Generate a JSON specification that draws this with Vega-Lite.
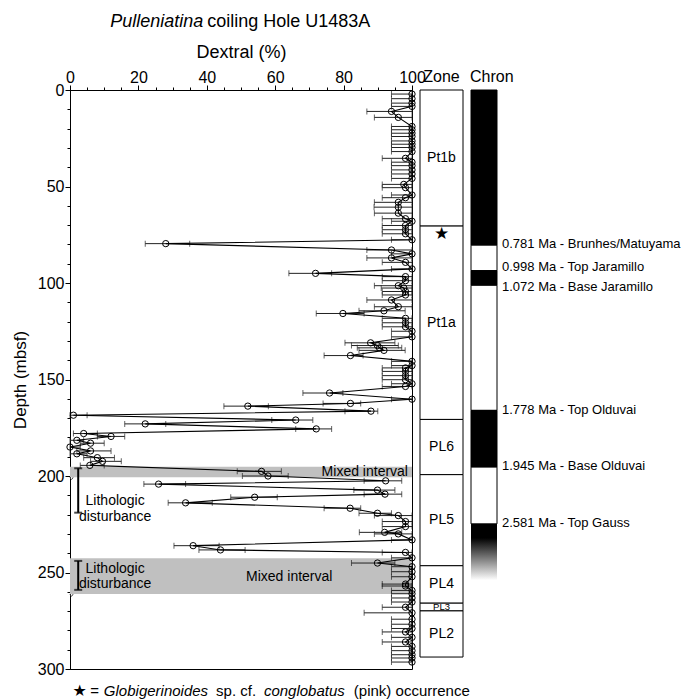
{
  "$schema": "https://vega.github.io/schema/vega-lite/v6.json",
  "padding": {"left": 10, "top": 12, "right": 2, "bottom": 0},
  "bounds": "flush",
  "spacing": 8,
  "config": {"font": "Liberation Sans", "view": {"stroke": null}},
  "datasets": {
    "pts": [
      {"d": 2.1, "p": 100, "lo": 94, "hi": 100},
      {"d": 4.5, "p": 100, "lo": 94, "hi": 100},
      {"d": 6.8, "p": 100, "lo": 94, "hi": 100},
      {"d": 8.5, "p": 100, "lo": 94, "hi": 100},
      {"d": 11.1, "p": 94, "lo": 86.8, "hi": 100},
      {"d": 14.2, "p": 96, "lo": 89, "hi": 100},
      {"d": 18.9, "p": 100, "lo": 94, "hi": 100},
      {"d": 20.6, "p": 100, "lo": 94, "hi": 100},
      {"d": 22.4, "p": 100, "lo": 94, "hi": 100},
      {"d": 24.1, "p": 100, "lo": 94, "hi": 100},
      {"d": 26.4, "p": 100, "lo": 94, "hi": 100},
      {"d": 28.1, "p": 100, "lo": 94, "hi": 100},
      {"d": 29.8, "p": 100, "lo": 94, "hi": 100},
      {"d": 31.9, "p": 100, "lo": 94, "hi": 100},
      {"d": 35.4, "p": 98.1, "lo": 91.3, "hi": 100},
      {"d": 37.4, "p": 100, "lo": 94, "hi": 100},
      {"d": 39.2, "p": 100, "lo": 94, "hi": 100},
      {"d": 41.4, "p": 100, "lo": 94, "hi": 100},
      {"d": 43.5, "p": 100, "lo": 94, "hi": 100},
      {"d": 45.8, "p": 100, "lo": 94, "hi": 100},
      {"d": 48.9, "p": 97.6, "lo": 91.3, "hi": 100},
      {"d": 50.6, "p": 98.1, "lo": 91.3, "hi": 100},
      {"d": 54.4, "p": 100, "lo": 94, "hi": 100},
      {"d": 55.8, "p": 98.1, "lo": 91.3, "hi": 100},
      {"d": 58.2, "p": 96, "lo": 89, "hi": 100},
      {"d": 60.7, "p": 96, "lo": 88.9, "hi": 100},
      {"d": 63.8, "p": 96, "lo": 89, "hi": 100},
      {"d": 66.7, "p": 98.1, "lo": 91.3, "hi": 100},
      {"d": 68.0, "p": 100, "lo": 94, "hi": 100},
      {"d": 70.2, "p": 98.1, "lo": 91.3, "hi": 100},
      {"d": 72.4, "p": 98.1, "lo": 91.3, "hi": 100},
      {"d": 74.5, "p": 98.1, "lo": 91.3, "hi": 100},
      {"d": 77.6, "p": 100, "lo": 94, "hi": 100},
      {"d": 79.6, "p": 28, "lo": 22, "hi": 35},
      {"d": 82.9, "p": 94, "lo": 86.8, "hi": 100},
      {"d": 84.9, "p": 100, "lo": 94, "hi": 100},
      {"d": 87.0, "p": 94, "lo": 86.8, "hi": 100},
      {"d": 89.3, "p": 98.1, "lo": 91.3, "hi": 100},
      {"d": 92.7, "p": 100, "lo": 94, "hi": 100},
      {"d": 95.0, "p": 71.8, "lo": 64, "hi": 76.5},
      {"d": 96.7, "p": 98.1, "lo": 91.3, "hi": 100},
      {"d": 98.8, "p": 98.1, "lo": 91.3, "hi": 100},
      {"d": 101.4, "p": 96, "lo": 89, "hi": 100},
      {"d": 102.6, "p": 97.6, "lo": 91, "hi": 100},
      {"d": 104.4, "p": 98.1, "lo": 91.3, "hi": 100},
      {"d": 106.2, "p": 98.1, "lo": 91.3, "hi": 100},
      {"d": 108.8, "p": 94, "lo": 86.8, "hi": 100},
      {"d": 112.3, "p": 96, "lo": 89, "hi": 100},
      {"d": 114.4, "p": 91.8, "lo": 84.5, "hi": 98},
      {"d": 115.8, "p": 79.8, "lo": 72, "hi": 86},
      {"d": 118.3, "p": 98.1, "lo": 91.3, "hi": 100},
      {"d": 120.6, "p": 98.1, "lo": 91.3, "hi": 100},
      {"d": 122.7, "p": 98.1, "lo": 91.3, "hi": 100},
      {"d": 125.0, "p": 100, "lo": 94, "hi": 100},
      {"d": 127.9, "p": 100, "lo": 94, "hi": 100},
      {"d": 131.0, "p": 87.9, "lo": 80.4, "hi": 95},
      {"d": 132.4, "p": 89.9, "lo": 82.3, "hi": 96},
      {"d": 133.6, "p": 90.5, "lo": 84, "hi": 97},
      {"d": 134.9, "p": 91.8, "lo": 84.5, "hi": 98},
      {"d": 137.6, "p": 82, "lo": 74.3, "hi": 85.7},
      {"d": 140.6, "p": 100, "lo": 94, "hi": 100},
      {"d": 142.8, "p": 100, "lo": 94, "hi": 100},
      {"d": 144.0, "p": 98.1, "lo": 91.3, "hi": 100},
      {"d": 145.8, "p": 98.1, "lo": 91.3, "hi": 100},
      {"d": 148.0, "p": 98.1, "lo": 91.3, "hi": 100},
      {"d": 150.1, "p": 98.1, "lo": 91.3, "hi": 100},
      {"d": 152.2, "p": 100, "lo": 94, "hi": 100},
      {"d": 153.6, "p": 98.1, "lo": 91.3, "hi": 100},
      {"d": 157.0, "p": 75.9, "lo": 68.1, "hi": 79.8},
      {"d": 160.2, "p": 100, "lo": 94, "hi": 100},
      {"d": 162.4, "p": 82, "lo": 74, "hi": 85},
      {"d": 163.8, "p": 52, "lo": 45, "hi": 58},
      {"d": 166.4, "p": 88, "lo": 80.4, "hi": 90},
      {"d": 168.5, "p": 1, "lo": 0, "hi": 5},
      {"d": 171.0, "p": 66, "lo": 59, "hi": 71},
      {"d": 173.0, "p": 22, "lo": 16, "hi": 28},
      {"d": 175.6, "p": 72, "lo": 66, "hi": 76.5},
      {"d": 178.0, "p": 4, "lo": 1, "hi": 8},
      {"d": 179.5, "p": 12, "lo": 8, "hi": 16},
      {"d": 181.5, "p": 2, "lo": 0, "hi": 4},
      {"d": 183.0, "p": 6, "lo": 3, "hi": 10},
      {"d": 185.0, "p": 0, "lo": 0, "hi": 3},
      {"d": 187.0, "p": 6, "lo": 2, "hi": 12},
      {"d": 188.5, "p": 2, "lo": 0, "hi": 5},
      {"d": 190.5, "p": 8, "lo": 4, "hi": 13},
      {"d": 192.4, "p": 9.5, "lo": 6, "hi": 15},
      {"d": 194.5, "p": 5.8, "lo": 3, "hi": 10},
      {"d": 197.6, "p": 56, "lo": 48.9, "hi": 61.8},
      {"d": 200.0, "p": 57.9, "lo": 50.4, "hi": 63.8},
      {"d": 202.5, "p": 92.3, "lo": 86, "hi": 97},
      {"d": 204.2, "p": 25.9, "lo": 21.6, "hi": 33.8},
      {"d": 207.3, "p": 89.9, "lo": 83, "hi": 95},
      {"d": 209.4, "p": 92.1, "lo": 86, "hi": 97},
      {"d": 211.0, "p": 54, "lo": 47, "hi": 60.6},
      {"d": 213.9, "p": 33.8, "lo": 28.7, "hi": 41.6},
      {"d": 216.7, "p": 81.9, "lo": 74.3, "hi": 85},
      {"d": 219.3, "p": 89.9, "lo": 84.5, "hi": 94},
      {"d": 220.5, "p": 96, "lo": 89, "hi": 100},
      {"d": 223.6, "p": 98.1, "lo": 91.3, "hi": 100},
      {"d": 226.2, "p": 98.1, "lo": 91.3, "hi": 100},
      {"d": 229.2, "p": 92, "lo": 84.6, "hi": 97},
      {"d": 230.0, "p": 96, "lo": 89, "hi": 100},
      {"d": 233.1, "p": 100, "lo": 94, "hi": 100},
      {"d": 236.1, "p": 36, "lo": 30.4, "hi": 43.6},
      {"d": 238.3, "p": 44, "lo": 37.7, "hi": 51.2},
      {"d": 239.6, "p": 98.1, "lo": 91.3, "hi": 100},
      {"d": 242.4, "p": 100, "lo": 94, "hi": 100},
      {"d": 245.1, "p": 89.9, "lo": 82.3, "hi": 95},
      {"d": 247.0, "p": 100, "lo": 94, "hi": 100},
      {"d": 249.6, "p": 100, "lo": 94, "hi": 100},
      {"d": 252.2, "p": 100, "lo": 94, "hi": 100},
      {"d": 256.0, "p": 98.1, "lo": 91.3, "hi": 100},
      {"d": 257.0, "p": 98.1, "lo": 91.3, "hi": 100},
      {"d": 259.3, "p": 100, "lo": 94, "hi": 100},
      {"d": 261.0, "p": 100, "lo": 94, "hi": 100},
      {"d": 263.2, "p": 100, "lo": 94, "hi": 100},
      {"d": 265.3, "p": 100, "lo": 94, "hi": 100},
      {"d": 268.0, "p": 98.1, "lo": 91.3, "hi": 100},
      {"d": 270.9, "p": 100, "lo": 86, "hi": 100},
      {"d": 274.2, "p": 100, "lo": 94, "hi": 100},
      {"d": 276.8, "p": 100, "lo": 94, "hi": 100},
      {"d": 279.0, "p": 100, "lo": 94, "hi": 100},
      {"d": 280.8, "p": 98.1, "lo": 91.3, "hi": 100},
      {"d": 283.6, "p": 100, "lo": 94, "hi": 100},
      {"d": 286.0, "p": 98.1, "lo": 91.3, "hi": 100},
      {"d": 288.3, "p": 100, "lo": 94, "hi": 100},
      {"d": 290.5, "p": 100, "lo": 94, "hi": 100},
      {"d": 292.6, "p": 100, "lo": 94, "hi": 100},
      {"d": 294.3, "p": 100, "lo": 94, "hi": 100},
      {"d": 296.4, "p": 100, "lo": 94, "hi": 100}
    ],
    "bands": [{"top": 195.2, "bot": 200.7}, {"top": 242.6, "bot": 261.2}],
    "dist": [{"x": 2.4, "top": 196, "bot": 219}, {"x": 2.4, "top": 244, "bot": 259}],
    "distLabels": [
      {"x": 13.2, "d": 213, "t": "Lithologic"},
      {"x": 13.2, "d": 221, "t": "disturbance"},
      {"x": 13.2, "d": 248, "t": "Lithologic"},
      {"x": 13.2, "d": 256, "t": "disturbance"}
    ],
    "mixLabels": [{"x": 86.2, "d": 198, "t": "Mixed interval"}, {"x": 64.1, "d": 252.2, "t": "Mixed interval"}],
    "titleItalic": [{"x": 39.0, "d": -32.6, "t": "Pulleniatina"}],
    "titleNormal": [{"x": 40.1, "d": -32.6, "t": "coiling Hole U1483A"}],
    "footStar": [{"x": 0.7, "d": 314, "t": "★"}],
    "footNormal": [{"x": 5.9, "d": 314, "t": "="}, {"x": 42.7, "d": 314, "t": "sp. cf."}, {"x": 83.0, "d": 314, "t": "(pink) occurrence"}],
    "footItalic": [{"x": 9.9, "d": 314, "t": "Globigerinoides"}, {"x": 56.7, "d": 314, "t": "conglobatus"}],
    "zones": [
      {"zone": "Pt1b", "top": 0, "bot": 70.5},
      {"zone": "Pt1a", "top": 70.5, "bot": 170.7},
      {"zone": "PL6", "top": 170.7, "bot": 199.3},
      {"zone": "PL5", "top": 199.3, "bot": 246.5},
      {"zone": "PL4", "top": 246.5, "bot": 265.9},
      {"zone": "PL3", "top": 265.9, "bot": 269.9},
      {"zone": "PL2", "top": 269.9, "bot": 293.8}
    ],
    "star": [{"d": 74.5, "t": "★"}],
    "chron": [
      {"top": 0, "bot": 80.4, "pol": "normal"},
      {"top": 80.4, "bot": 93.6, "pol": "reversed"},
      {"top": 93.6, "bot": 101.2, "pol": "normal"},
      {"top": 101.2, "bot": 166, "pol": "reversed"},
      {"top": 166, "bot": 195.4, "pol": "normal"},
      {"top": 195.4, "bot": 224.8, "pol": "reversed"}
    ],
    "gauss": [{"top": 224.8, "bot": 254}],
    "events": [
      {"d": 79.6, "t": "0.781 Ma - Brunhes/Matuyama"},
      {"d": 91.7, "t": "0.998 Ma - Top Jaramillo"},
      {"d": 101.9, "t": "1.072 Ma - Base Jaramillo"},
      {"d": 165.8, "t": "1.778 Ma - Top Olduvai"},
      {"d": 194.6, "t": "1.945 Ma - Base Olduvai"},
      {"d": 224.1, "t": "2.581 Ma - Top Gauss"}
    ],
    "heads": [{"d": -4.1}]
  },
  "hconcat": [
    {
      "width": 342,
      "height": 579,
      "view": {"stroke": "black", "strokeWidth": 1},
      "resolve": {"axis": {"x": "independent", "y": "independent"}},
      "layer": [
        {
          "data": {"name": "bands"},
          "mark": {"type": "rect", "color": "#c0c0c0"},
          "encoding": {
            "x": {"datum": 0, "type": "quantitative", "scale": {"domain": [0, 100], "nice": false, "zero": false}, "axis": null},
            "x2": {"datum": 100},
            "y": {"field": "top", "type": "quantitative", "scale": {"domain": [0, 300], "reverse": true, "nice": false, "zero": false}, "axis": null},
            "y2": {"field": "bot"}
          }
        },
        {
          "data": {"name": "bands"},
          "mark": {
            "type": "point",
            "shape": "M-1,0q0.00893,0.024 0.01786,0t0.01786,0t0.01786,0t0.01786,0t0.01786,0t0.01786,0t0.01786,0t0.01786,0t0.01786,0t0.01786,0t0.01786,0t0.01786,0t0.01786,0t0.01786,0t0.01786,0t0.01786,0t0.01786,0t0.01786,0t0.01786,0t0.01786,0t0.01786,0t0.01786,0t0.01786,0t0.01786,0t0.01786,0t0.01786,0t0.01786,0t0.01786,0t0.01786,0t0.01786,0t0.01786,0t0.01786,0t0.01786,0t0.01786,0t0.01786,0t0.01786,0t0.01786,0t0.01786,0t0.01786,0t0.01786,0t0.01786,0t0.01786,0t0.01786,0t0.01786,0t0.01786,0t0.01786,0t0.01786,0t0.01786,0t0.01786,0t0.01786,0t0.01786,0t0.01786,0t0.01786,0t0.01786,0t0.01786,0t0.01786,0t0.01786,0t0.01786,0t0.01786,0t0.01786,0t0.01786,0t0.01786,0t0.01786,0t0.01786,0t0.01786,0t0.01786,0t0.01786,0t0.01786,0t0.01786,0t0.01786,0t0.01786,0t0.01786,0t0.01786,0t0.01786,0t0.01786,0t0.01786,0t0.01786,0t0.01786,0t0.01786,0t0.01786,0t0.01786,0t0.01786,0t0.01786,0t0.01786,0t0.01786,0t0.01786,0t0.01786,0t0.01786,0t0.01786,0t0.01786,0t0.01786,0t0.01786,0t0.01786,0t0.01786,0t0.01786,0t0.01786,0t0.01786,0t0.01786,0t0.01786,0t0.01786,0t0.01786,0t0.01786,0t0.01786,0t0.01786,0t0.01786,0t0.01786,0t0.01786,0t0.01786,0t0.01786,0",
            "size": 116964, "filled": false, "stroke": "#444", "strokeWidth": 1, "opacity": 1
          },
          "encoding": {
            "x": {"datum": 50, "type": "quantitative", "axis": null},
            "y": {"field": "bot", "type": "quantitative", "axis": null}
          }
        },
        {
          "data": {"name": "pts"},
          "mark": {"type": "errorbar", "color": "#222", "ticks": {"size": 6}},
          "encoding": {
            "x": {"field": "lo", "type": "quantitative", "axis": null},
            "x2": {"field": "hi"},
            "y": {"field": "d", "type": "quantitative", "axis": null}
          }
        },
        {
          "data": {"name": "pts"},
          "mark": {"type": "line", "color": "black", "strokeWidth": 1.1},
          "encoding": {
            "x": {
              "field": "p", "type": "quantitative",
              "axis": {
                "orient": "top", "values": [0, 5, 10, 15, 20, 25, 30, 35, 40, 45, 50, 55, 60, 65, 70, 75, 80, 85, 90, 95, 100],
                "labels": false, "domain": false, "tickSize": 3, "tickColor": "black", "grid": false, "title": null
              }
            },
            "y": {
              "field": "d", "type": "quantitative",
              "axis": {
                "orient": "left", "values": [0, 10, 20, 30, 40, 50, 60, 70, 80, 90, 100, 110, 120, 130, 140, 150, 160, 170, 180, 190, 200, 210, 220, 230, 240, 250, 260, 270, 280, 290, 300],
                "labels": false, "domain": false, "tickSize": 3, "tickColor": "black", "grid": false, "title": null
              }
            },
            "order": {"field": "d", "type": "quantitative"}
          }
        },
        {
          "data": {"name": "pts"},
          "mark": {"type": "point", "shape": "circle", "filled": false, "stroke": "black", "strokeWidth": 1, "size": 40, "opacity": 1},
          "encoding": {
            "x": {
              "field": "p", "type": "quantitative",
              "axis": {
                "orient": "top", "values": [0, 20, 40, 60, 80, 100],
                "tickSize": 5, "labelFontSize": 16, "labelColor": "black", "labelPadding": 0, "labelFlush": false, "labelOverlap": false,
                "domainColor": "black", "tickColor": "black", "grid": false,
                "title": "Dextral (%)", "titleFontSize": 18, "titleFontWeight": "normal", "titleColor": "black", "titlePadding": 8
              }
            },
            "y": {
              "field": "d", "type": "quantitative",
              "axis": {
                "orient": "left", "values": [0, 50, 100, 150, 200, 250, 300],
                "tickSize": 5, "labelFontSize": 16, "labelColor": "black", "labelPadding": 1, "labelOverlap": false,
                "domainColor": "black", "tickColor": "black", "grid": false,
                "title": "Depth (mbsf)", "titleFontSize": 17, "titleFontWeight": "normal", "titleColor": "black", "titlePadding": 8
              }
            }
          }
        },
        {
          "data": {"name": "dist"},
          "mark": {"type": "errorbar", "color": "black", "rule": {"strokeWidth": 2}, "ticks": {"size": 8, "thickness": 2}},
          "encoding": {
            "x": {"field": "x", "type": "quantitative", "axis": null},
            "y": {"field": "top", "type": "quantitative", "axis": null},
            "y2": {"field": "bot"}
          }
        },
        {
          "data": {"name": "distLabels"},
          "mark": {"type": "text", "fontSize": 14, "align": "center", "baseline": "middle", "color": "black"},
          "encoding": {
            "x": {"field": "x", "type": "quantitative", "axis": null},
            "y": {"field": "d", "type": "quantitative", "axis": null},
            "text": {"field": "t"}
          }
        },
        {
          "data": {"name": "mixLabels"},
          "mark": {"type": "text", "fontSize": 14, "align": "center", "baseline": "middle", "color": "black"},
          "encoding": {
            "x": {"field": "x", "type": "quantitative", "axis": null},
            "y": {"field": "d", "type": "quantitative", "axis": null},
            "text": {"field": "t"}
          }
        },
        {
          "data": {"name": "titleItalic"},
          "mark": {"type": "text", "fontSize": 18, "fontStyle": "italic", "align": "right", "baseline": "alphabetic", "color": "black"},
          "encoding": {
            "x": {"field": "x", "type": "quantitative", "axis": null},
            "y": {"field": "d", "type": "quantitative", "axis": null},
            "text": {"field": "t"}
          }
        },
        {
          "data": {"name": "titleNormal"},
          "mark": {"type": "text", "fontSize": 18, "align": "left", "baseline": "alphabetic", "color": "black"},
          "encoding": {
            "x": {"field": "x", "type": "quantitative", "axis": null},
            "y": {"field": "d", "type": "quantitative", "axis": null},
            "text": {"field": "t"}
          }
        },
        {
          "data": {"name": "footStar"},
          "mark": {"type": "text", "font": "DejaVu Sans", "fontSize": 16, "align": "left", "baseline": "alphabetic", "color": "black"},
          "encoding": {
            "x": {"field": "x", "type": "quantitative", "axis": null},
            "y": {"field": "d", "type": "quantitative", "axis": null},
            "text": {"field": "t"}
          }
        },
        {
          "data": {"name": "footNormal"},
          "mark": {"type": "text", "fontSize": 15, "align": "left", "baseline": "alphabetic", "color": "black"},
          "encoding": {
            "x": {"field": "x", "type": "quantitative", "axis": null},
            "y": {"field": "d", "type": "quantitative", "axis": null},
            "text": {"field": "t"}
          }
        },
        {
          "data": {"name": "footItalic"},
          "mark": {"type": "text", "fontSize": 15, "fontStyle": "italic", "align": "left", "baseline": "alphabetic", "color": "black"},
          "encoding": {
            "x": {"field": "x", "type": "quantitative", "axis": null},
            "y": {"field": "d", "type": "quantitative", "axis": null},
            "text": {"field": "t"}
          }
        }
      ]
    },
    {
      "width": 43,
      "height": 579,
      "view": {"stroke": null},
      "layer": [
        {
          "data": {"name": "zones"},
          "mark": {"type": "rect", "fill": "white", "stroke": "black", "strokeWidth": 1},
          "encoding": {
            "x": {"datum": 0, "type": "quantitative", "scale": {"domain": [0, 1], "nice": false, "zero": false}, "axis": null},
            "x2": {"datum": 1},
            "y": {"field": "top", "type": "quantitative", "scale": {"domain": [0, 300], "reverse": true, "nice": false, "zero": false}, "axis": null},
            "y2": {"field": "bot"}
          }
        },
        {
          "data": {"name": "zones"},
          "transform": [{"calculate": "(datum.top + datum.bot) / 2", "as": "mid"}],
          "mark": {"type": "text", "align": "center", "baseline": "middle", "color": "black"},
          "encoding": {
            "x": {"datum": 0.5, "type": "quantitative", "axis": null},
            "y": {"field": "mid", "type": "quantitative", "axis": null},
            "text": {"field": "zone"},
            "size": {"condition": {"test": "datum.zone === 'PL3'", "value": 9.5}, "value": 14}
          }
        },
        {
          "data": {"name": "star"},
          "mark": {"type": "text", "font": "DejaVu Sans", "fontSize": 17, "align": "center", "baseline": "middle", "color": "black"},
          "encoding": {
            "x": {"datum": 0.5, "type": "quantitative", "axis": null},
            "y": {"field": "d", "type": "quantitative", "axis": null},
            "text": {"field": "t"}
          }
        },
        {
          "data": {"name": "heads"},
          "mark": {"type": "text", "fontSize": 16, "align": "center", "baseline": "alphabetic", "color": "black", "text": "Zone"},
          "encoding": {
            "x": {"datum": 0.5, "type": "quantitative", "axis": null},
            "y": {"field": "d", "type": "quantitative", "axis": null}
          }
        }
      ]
    },
    {
      "width": 26,
      "height": 579,
      "view": {"stroke": null},
      "layer": [
        {
          "data": {"name": "chron"},
          "mark": {"type": "rect", "stroke": "black", "strokeWidth": 1},
          "encoding": {
            "x": {"datum": 0, "type": "quantitative", "scale": {"domain": [0, 1], "nice": false, "zero": false}, "axis": null},
            "x2": {"datum": 1},
            "y": {"field": "top", "type": "quantitative", "scale": {"domain": [0, 300], "reverse": true, "nice": false, "zero": false}, "axis": null},
            "y2": {"field": "bot"},
            "fill": {"field": "pol", "type": "nominal", "scale": {"domain": ["normal", "reversed"], "range": ["black", "white"]}, "legend": null}
          }
        },
        {
          "data": {"name": "gauss"},
          "mark": {
            "type": "rect",
            "fill": {
              "gradient": "linear", "x1": 0, "y1": 0, "x2": 0, "y2": 1,
              "stops": [{"offset": 0, "color": "black"}, {"offset": 0.25, "color": "black"}, {"offset": 1, "color": "white"}]
            }
          },
          "encoding": {
            "x": {"datum": 0, "type": "quantitative", "axis": null},
            "x2": {"datum": 1},
            "y": {"field": "top", "type": "quantitative", "axis": null},
            "y2": {"field": "bot"}
          }
        },
        {
          "data": {"name": "events"},
          "mark": {"type": "text", "fontSize": 13, "align": "left", "baseline": "middle", "dx": 5, "color": "black"},
          "encoding": {
            "x": {"datum": 1, "type": "quantitative", "axis": null},
            "y": {"field": "d", "type": "quantitative", "axis": null},
            "text": {"field": "t"}
          }
        },
        {
          "data": {"name": "heads"},
          "mark": {"type": "text", "fontSize": 16, "align": "left", "baseline": "alphabetic", "dx": -1, "color": "black", "text": "Chron"},
          "encoding": {
            "x": {"datum": 0, "type": "quantitative", "axis": null},
            "y": {"field": "d", "type": "quantitative", "axis": null}
          }
        }
      ]
    }
  ]
}
